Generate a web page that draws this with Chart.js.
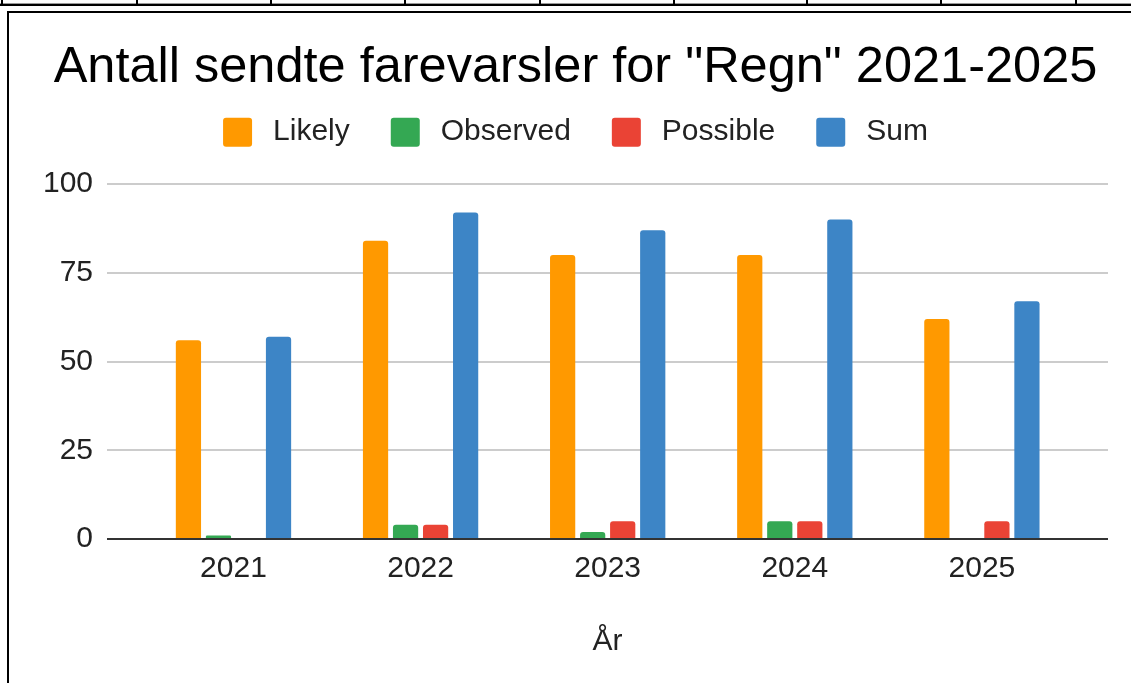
<!DOCTYPE html>
<html>
<head>
<meta charset="utf-8">
<script src="https://cdn.jsdelivr.net/npm/chart.js@4"></script>
<style>
  html, body { margin: 0; padding: 0; background: #fff; overflow: hidden; }
  body { width: 1131px; height: 683px; position: relative; }
  .rowline { position: absolute; left: 0; top: 3px; width: 1131px; height: 0; border-top: 1px solid #999; border-bottom: 2px solid #000; }
  .cellline { position: absolute; top: 0; width: 2px; height: 5px; background: #000; }
  .box { position: absolute; left: 7px; top: 11px; width: 1140px; height: 700px; border-left: 2px solid #000; border-top: 2px solid #000; }
  #wrap { position: absolute; left: 9px; top: 13px; width: 1134px; height: 670px; }
</style>
</head>
<body>
<div class="rowline"></div>
<div class="box"></div>
<div id="wrap"><canvas id="myChart" width="1134" height="670"></canvas></div>
<script>
// data
const years = [2021, 2022, 2023, 2024, 2025];
const likely = [56, 84, 80, 80, 62];
const observed = [1, 4, 2, 5, 0];
const possible = [0, 4, 5, 5, 5];
const sums = [57, 92, 87, 90, 67];
const yTicks = [0, 25, 50, 75, 100];

const seriesNames = ["Likely", "Observed", "Possible", "Sum"];
const seriesColors = ["#ff9900", "#34a853", "#ea4335", "#3d85c6"];

// spreadsheet cell dividers above the chart
[1, 136, 270, 404, 539, 673, 806, 940, 1075].forEach((x) => {
  const d = document.createElement("div");
  d.className = "cellline";
  d.style.left = x + "px";
  document.body.appendChild(d);
});

const FONT = "'Liberation Sans', Arial, sans-serif";
const ctx = document.getElementById("myChart");

const makeSet = (i, values) => ({
  label: seriesNames[i],
  data: values,
  backgroundColor: seriesColors[i],
  borderColor: seriesColors[i],
  borderWidth: 0,
  borderRadius: 3,
  categoryPercentage: 0.642,
  barPercentage: 0.84,
});

//------------------------------------------
const myChart = new Chart(ctx, {
  type: "bar",
  data: {
    labels: years,
    datasets: [
      makeSet(0, likely),
      makeSet(1, observed),
      makeSet(2, possible),
      makeSet(3, sums),
    ],
  },
  options: {
    responsive: false,
    animation: false,
    layout: { padding: { left: 34, right: 35, top: 0, bottom: 0 } },
    plugins: {
      tooltip: { enabled: false },
      title: {
        display: true,
        text: 'Antall sendte farevarsler for "Regn" 2021-2025',
        color: "#000",
        font: { family: FONT, size: 50.5, weight: "normal", lineHeight: 0.3 },
        padding: { top: 48, bottom: 0 },
      },
      subtitle: {
        // empty spacer between legend and plot
        display: true,
        text: "",
        weight: 500,
        font: { size: 10, lineHeight: 1 },
        padding: { top: 16.85, bottom: 0 },
      },
      legend: {
        position: "top",
        labels: {
          color: "#222",
          font: { family: FONT, size: 30 },
          boxWidth: 29,
          boxHeight: 29,
          padding: 41,
          useBorderRadius: true,
          borderRadius: 3,
          generateLabels: (chart) =>
            Chart.defaults.plugins.legend.labels
              .generateLabels(chart)
              .map((l) => ({ ...l, text: "\u2009" + l.text })),
        },
      },
    },
    scales: {
      x: {
        type: "linear",
        offset: false,
        min: 2020.324,
        max: 2025.674,
        afterFit: (scale) => { scale.height = 144; },
        grid: { display: false, drawTicks: false },
        border: { display: false },
        ticks: {
          stepSize: 1,
          includeBounds: false,
          maxRotation: 0,
          autoSkip: false,
          padding: 12,
          color: "#222",
          font: { family: FONT, size: 30 },
          callback: (v) => String(v),
        },
        title: {
          display: true,
          text: "År",
          color: "#222",
          font: { family: FONT, size: 30, lineHeight: 1.2 },
          padding: { top: 0, bottom: 23 },
        },
      },
      y: {
        min: yTicks[0],
        max: yTicks[yTicks.length - 1],
        afterFit: (scale) => { scale.width = 64; },
        border: { display: false },
        grid: {
          drawTicks: false,
          lineWidth: 2,
          color: (c) => (c.tick && c.tick.value === 0 ? "#333" : "#ccc"),
        },
        ticks: {
          stepSize: yTicks[1] - yTicks[0],
          padding: 14,
          color: "#222",
          font: { family: FONT, size: 30 },
        },
      },
    },
  },
});
</script>
</body>
</html>
